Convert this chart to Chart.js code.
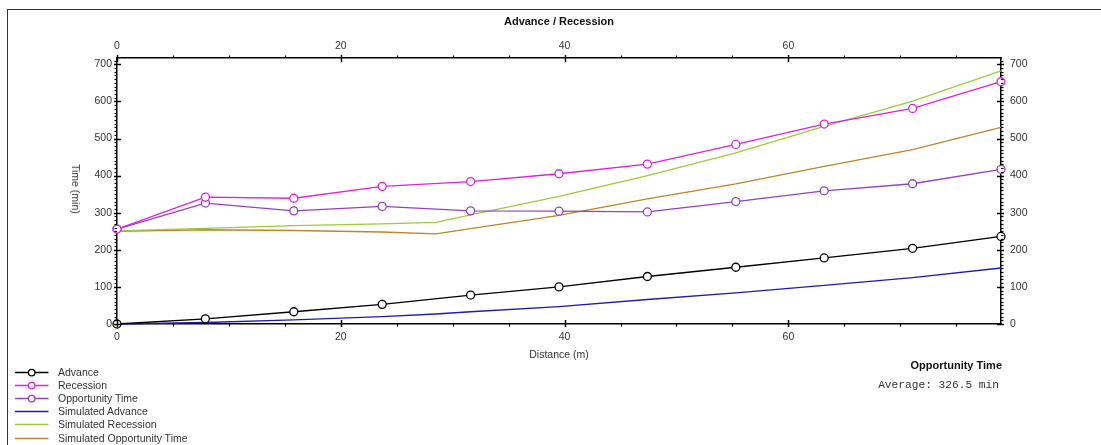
<!DOCTYPE html>
<html>
<head>
<meta charset="utf-8">
<title>Advance / Recession</title>
<script src="https://cdn.jsdelivr.net/npm/chart.js@4.4.1/dist/chart.umd.min.js"></script>
<style>
  html, body { margin: 0; padding: 0; background: #fff; }
  #wrap { position: relative; width: 1101px; height: 445px; overflow: hidden;
          font-family: "Liberation Sans", Arial, sans-serif; background: #fff; }
  #frame { position: absolute; left: 7px; top: 9px; width: 1200px; height: 500px;
           border-left: 1px solid #333; border-top: 1px solid #333; }
  #chart { position: absolute; left: 0; top: 0; }
  #ytitle { position: absolute; left: 76px; top: 189px; font-size: 10.5px; color: #333;
            white-space: nowrap; transform: translate(-50%, -50%) rotate(90deg); }
  #legend { position: absolute; left: 0; top: 365.7px; font-size: 10.5px; color: #333; }
  .row { position: relative; width: 260px; height: 13.2px; line-height: 13.2px; }
  .row svg { position: absolute; left: 0; top: 0; }
  .row span { position: absolute; left: 58px; top: 0; white-space: nowrap; }
  #summary { position: absolute; right: 99px; top: 359px; text-align: right; }
  #summary .head { font-weight: bold; font-size: 11px; color: #111; line-height: 13px; }
  #summary .avg { font-family: "Liberation Mono", "Courier New", monospace; font-size: 11.2px;
                  color: #333; line-height: 13px; margin-top: 6.5px; margin-right: 3px; white-space: pre; }
</style>
</head>
<body>
<div id="wrap">
  <div id="frame"></div>
  <canvas id="chart" width="1101" height="445"></canvas>
  <div id="ytitle">Time (min)</div>
  <div id="legend"></div>
  <div id="summary">
    <div class="head">Opportunity Time</div>
    <div class="avg">Average: 326.5 min</div>
  </div>
</div>
<script>
// Measured stations along the furrow (m) and observed times (min)
const distance    = [0, 7.9, 15.8, 23.7, 31.6, 39.5, 47.4, 55.3, 63.2, 71.1, 79];
const advance     = [0, 14, 33, 53, 78, 100, 128, 153, 178, 204, 236];
const recession   = [256, 342, 339, 371, 384, 405, 431, 484, 539, 581, 653];
const opportunity = [256, 326, 305, 317, 305, 304, 302, 330, 359, 378, 417];

// Simulated curves (model output, includes the break point near 28.5 m)
const simDistance    = [0, 7.9, 15.8, 23.7, 28.5, 31.6, 39.5, 47.4, 55.3, 63.2, 71.1, 79];
const simAdvance     = [0, 4, 11, 20, 27, 33, 47, 66, 84, 104, 125, 151];
const simRecession   = [251, 258, 265, 270, 274, 294, 344, 400, 461, 533, 601, 682];
const simOpportunity = [250, 254, 252, 248, 243, 257, 293, 337, 378, 425, 470, 530];

// Axis ranges and tick labels
const xMax = 79, xMinor = 5;
const yMax = 717, yMinor = 10;
const xTickLabels = [0, 20, 40, 60];
const yTickLabels = [0, 100, 200, 300, 400, 500, 600, 700];

const FONT = "'Liberation Sans', Arial, sans-serif";

const series = [
  { label: 'Advance',                    xs: distance,    ys: advance,        color: '#000000', marker: true },
  { label: 'Recession',                  xs: distance,    ys: recession,      color: '#dd22dd', marker: true },
  { label: 'Opportunity Time',           xs: distance,    ys: opportunity,    color: '#9440c4', marker: true },
  { label: 'Simulated Advance',          xs: simDistance, ys: simAdvance,     color: '#1c1cb0', marker: false },
  { label: 'Simulated Recession',        xs: simDistance, ys: simRecession,   color: '#9ccc3a', marker: false },
  { label: 'Simulated Opportunity Time', xs: simDistance, ys: simOpportunity, color: '#c08526', marker: false }
];

const datasets = series.map(s => ({
  label: s.label,
  data: s.xs.map((x, i) => ({ x: x, y: s.ys[i] })),
  showLine: true,
  borderColor: s.color,
  borderWidth: 1.3,
  backgroundColor: '#ffffff',
  pointRadius: s.marker ? 4 : 0,
  pointHoverRadius: s.marker ? 4 : 0,
  pointBorderWidth: 1.3,
  pointBorderColor: s.color,
  pointBackgroundColor: '#ffffff',
  tension: 0,
  clip: false
}));

// Legend rows: line sample with optional open marker, then the label
const legend = document.getElementById('legend');
series.forEach(s => {
  const row = document.createElement('div');
  row.className = 'row';
  const circle = s.marker
    ? `<circle cx="31.7" cy="6.6" r="3.3" fill="#fff" stroke="${s.color}" stroke-width="1.3"/>`
    : '';
  row.innerHTML =
    `<svg width="52" height="13.2" viewBox="0 0 52 13.2">` +
    `<line x1="15" y1="6.6" x2="48.5" y2="6.6" stroke="${s.color}" stroke-width="1.5"/>${circle}</svg>` +
    `<span>${s.label}</span>`;
  legend.appendChild(row);
});

function fixedTicks(values) {
  return scale => { scale.ticks = values.map(v => ({ value: v })); };
}

const tickFont = { family: FONT, size: 10.5 };
const noGrid = { display: false, drawTicks: false, tickLength: 0 };
const axisBorder = { display: true, color: '#000', width: 1.5 };

// Tick marks: labelled ticks cross the axis line, minor ticks point outward
const axisTicks = {
  id: 'axisTicks',
  afterDraw(chart) {
    const { ctx, chartArea: a, scales } = chart;
    ctx.save();
    ctx.strokeStyle = '#000';
    const seg = (x1, y1, x2, y2, w) => {
      ctx.lineWidth = w;
      ctx.beginPath(); ctx.moveTo(x1, y1); ctx.lineTo(x2, y2); ctx.stroke();
    };
    for (let v = 0; v <= xMax + 1e-9; v += xMinor) {
      const px = Math.round(scales.x.getPixelForValue(v)) + 0.5;
      if (xTickLabels.includes(v)) {
        seg(px, a.bottom - 4, px, a.bottom + 3, 1.5);
        seg(px, a.top - 3, px, a.top + 4, 1.5);
      } else {
        seg(px, a.bottom, px, a.bottom + 2.5, 1.2);
        seg(px, a.top - 2.5, px, a.top, 1.2);
      }
    }
    for (let v = 0; v <= yMax + 1e-9; v += yMinor) {
      const py = Math.round(scales.y.getPixelForValue(v)) + 0.5;
      if (yTickLabels.includes(v)) {
        seg(a.left - 3, py, a.left + 4, py, 1.5);
        seg(a.right - 4, py, a.right + 3, py, 1.5);
      } else {
        seg(a.left - 2.5, py, a.left, py, 1.2);
        seg(a.right, py, a.right + 2.5, py, 1.2);
      }
    }
    ctx.restore();
  }
};

new Chart(document.getElementById('chart'), {
  type: 'scatter',
  data: { datasets: datasets },
  options: {
    responsive: false,
    animation: false,
    devicePixelRatio: 1,
    layout: { padding: { left: 0, right: 0, top: 0, bottom: 83 } },
    plugins: { legend: { display: false }, tooltip: { enabled: false } },
    scales: {
      x: {
        type: 'linear', position: 'bottom', min: 0, max: xMax,
        afterBuildTicks: fixedTicks(xTickLabels),
        afterFit: s => { s.height = 38; },
        grid: noGrid, border: axisBorder,
        ticks: { padding: 7, color: '#333', font: tickFont, maxRotation: 0, autoSkip: false },
        title: { display: true, text: 'Distance (m)', color: '#333', font: tickFont, padding: { top: 0, bottom: 1 } }
      },
      x2: {
        type: 'linear', position: 'top', display: true, min: 0, max: xMax,
        afterBuildTicks: fixedTicks(xTickLabels),
        afterFit: s => { s.height = 58; },
        grid: noGrid, border: axisBorder,
        ticks: { padding: 6, color: '#333', font: tickFont, maxRotation: 0, autoSkip: false },
        title: { display: true, text: 'Advance / Recession', color: '#111',
                 font: { family: FONT, size: 11, weight: 'bold' }, padding: { top: 15.4, bottom: 0 } }
      },
      y: {
        type: 'linear', position: 'left', min: 0, max: yMax,
        afterBuildTicks: fixedTicks(yTickLabels),
        afterFit: s => { s.width = 117; },
        grid: noGrid, border: axisBorder,
        ticks: { padding: 5, color: '#333', font: tickFont, autoSkip: false }
      },
      y2: {
        type: 'linear', position: 'right', display: true, min: 0, max: yMax,
        afterBuildTicks: fixedTicks(yTickLabels),
        afterFit: s => { s.width = 100; },
        grid: noGrid, border: axisBorder,
        ticks: { padding: 9, color: '#333', font: tickFont, autoSkip: false }
      }
    }
  },
  plugins: [axisTicks]
});
</script>
</body>
</html>
